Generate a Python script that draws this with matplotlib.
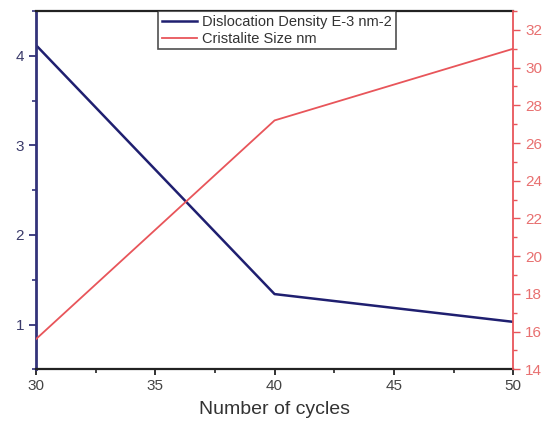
import matplotlib
matplotlib.use('Agg')
import matplotlib.pyplot as plt
from matplotlib.ticker import MultipleLocator

plt.rcParams['font.family'] = ['Liberation Sans', 'DejaVu Sans']

# data
cycles = [30, 40, 50]
dislocation = [4.12, 1.34, 1.03]
crystallite = [15.6, 27.2, 31.0]

blue = '#1f1f70'
red = '#e8555a'

fig = plt.figure(figsize=(5.53, 4.25), dpi=100)
ax = fig.add_axes([0.065, 0.131, 0.863, 0.843])
ax2 = ax.twinx()

l1, = ax.plot(cycles, dislocation, color=blue, lw=1.8, label='Dislocation Density E-3 nm-2')
l2, = ax2.plot(cycles, crystallite, color=red, lw=1.3, label='Cristalite Size nm')

ax.set_xlim(30, 50)
ax.set_ylim(0.5, 4.5)
ax2.set_ylim(14, 33)

ax.xaxis.set_major_locator(MultipleLocator(5))
ax.xaxis.set_minor_locator(MultipleLocator(2.5))
ax.yaxis.set_major_locator(MultipleLocator(1))
ax.yaxis.set_minor_locator(MultipleLocator(0.5))
ax2.yaxis.set_major_locator(MultipleLocator(2))
ax2.yaxis.set_minor_locator(MultipleLocator(1))

for s in ['top', 'bottom']:
    ax.spines[s].set_linewidth(1.6)
    ax.spines[s].set_color('#222222')
ax2.spines['top'].set_visible(False)
ax2.spines['bottom'].set_visible(False)
ax.spines['left'].set_color('#33337a')
ax.spines['left'].set_linewidth(2.0)
ax2.spines['left'].set_visible(False)
ax.spines['right'].set_visible(False)
ax2.spines['right'].set_color(red)
ax2.spines['right'].set_linewidth(1.3)

ax.tick_params(axis='x', which='major', length=4, width=1.3, colors='#222222',
               labelcolor='#444444', labelsize=11, pad=3)
ax.tick_params(axis='x', which='minor', length=3, width=1.2, colors='#222222')
ax.tick_params(axis='y', which='major', length=5, width=1.3, colors='#33337a',
               labelcolor='#3a3a6a', labelsize=11)
ax.tick_params(axis='y', which='minor', length=3, width=1.2, colors='#33337a')
ax2.tick_params(axis='y', which='major', length=5, width=1.0, colors=red,
                labelcolor='#e87070', labelsize=11)
ax2.tick_params(axis='y', which='minor', length=3, width=1.0, colors=red)

ax.set_xlabel('Number of cycles', fontsize=14, color='#333333', labelpad=6)

leg = ax.legend(handles=[l1, l2], loc='upper center', bbox_to_anchor=(0.505, 1.0),
                fontsize=10.5, frameon=True, fancybox=False, borderpad=0.25,
                handlelength=2.4, handletextpad=0.4, labelspacing=0.2,
                borderaxespad=0.0)
leg.get_frame().set_edgecolor('#222222')
leg.get_frame().set_linewidth(1.2)
for t in leg.get_texts():
    t.set_color('#333333')

fig.savefig('out.png', dpi=100)
